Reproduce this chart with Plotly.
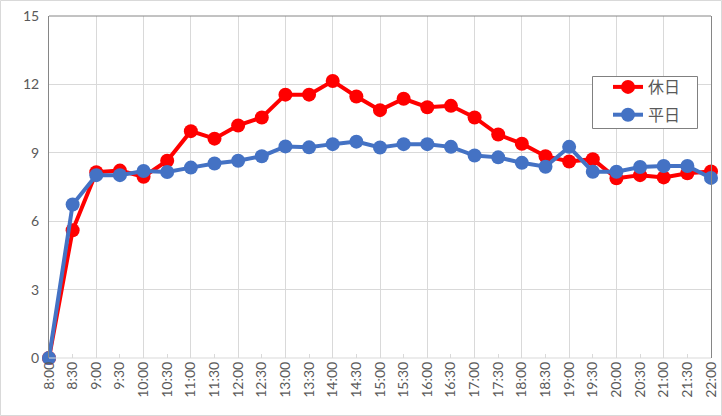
import plotly.graph_objects as go

times = ["8:00", "8:30", "9:00", "9:30", "10:00", "10:30", "11:00", "11:30", "12:00", "12:30",
         "13:00", "13:30", "14:00", "14:30", "15:00", "15:30", "16:00", "16:30", "17:00", "17:30",
         "18:00", "18:30", "19:00", "19:30", "20:00", "20:30", "21:00", "21:30", "22:00"]
holiday = [0, 5.6, 8.15, 8.22, 7.95, 8.65, 9.95, 9.62, 10.2, 10.55,
           11.55, 11.55, 12.15, 11.47, 10.87, 11.37, 11.0, 11.06, 10.55, 9.8,
           9.4, 8.85, 8.62, 8.72, 7.88, 8.02, 7.92, 8.1, 8.18]
weekday = [0, 6.73, 8.02, 8.02, 8.2, 8.16, 8.35, 8.53, 8.65, 8.85,
           9.28, 9.24, 9.38, 9.49, 9.23, 9.38, 9.38, 9.26, 8.88, 8.8,
           8.56, 8.39, 9.26, 8.17, 8.17, 8.38, 8.42, 8.42, 7.9]
series_names = ["休日", "平日"]
y_ticks = [0, 3, 6, 9, 12, 15]

xi = list(range(len(times)))
hourly = [i for i, t in enumerate(times) if t.endswith(":00")]

fig = go.Figure()
fig.add_trace(go.Scatter(x=xi, y=holiday, name=series_names[0], mode="lines+markers",
                         legendgroup="a",
                         line=dict(color="#FF0000", width=4),
                         marker=dict(color="#FF0000", size=14), cliponaxis=False))
fig.add_trace(go.Scatter(x=xi, y=weekday, name=series_names[1], mode="lines+markers",
                         legendgroup="b",
                         line=dict(color="#4472C4", width=4),
                         marker=dict(color="#4472C4", size=14), cliponaxis=False))

L, R, T, B = 49, 11, 16, 58
W, H = 722, 416
pw, ph = W - L - R, H - T - B


def px(x):
    return (x - L) / pw


def py(y):
    return (H - B - y) / ph


fig.update_layout(
    width=W, height=H,
    margin=dict(l=L, r=R, t=T, b=B, autoexpand=False),
    paper_bgcolor="white", plot_bgcolor="white",
    font=dict(family="Lato, 'Liberation Sans', sans-serif", color="#595959"),
    showlegend=True,
    legend=dict(x=px(608), y=py(70), xanchor="left", yanchor="top",
                borderwidth=0, bgcolor="rgba(0,0,0,0)",
                font=dict(family="'Noto Sans CJK JP', sans-serif", size=16, color="#595959"),
                itemwidth=30, tracegroupgap=4),
    xaxis=dict(range=[0, len(times) - 1], tickvals=xi, ticktext=times, tickangle=-90,
               automargin=False,
               showgrid=False, zeroline=False, showline=False,
               ticks="inside", ticklen=4, tickcolor="#D9D9D9",
               tickfont=dict(size=14, color="#595959"),
               minor=dict(tickvals=hourly, showgrid=True, gridcolor="#D9D9D9", gridwidth=1)),
    yaxis=dict(range=[0, 15], tickvals=y_ticks, showgrid=True, gridcolor="#D9D9D9",
               automargin=False,
               zeroline=False, showline=True, mirror=True, linecolor="#868686", linewidth=1,
               ticks="", tickfont=dict(size=14, color="#595959"), ticklabelstandoff=6),
    shapes=[
        dict(type="line", xref="paper", yref="paper", x0=0, x1=1, y0=1, y1=1,
             line=dict(color="#868686", width=1)),
        dict(type="line", xref="paper", yref="paper", x0=0, x1=1, y0=0, y1=0,
             line=dict(color="#D9D9D9", width=1)),
        dict(type="rect", xref="paper", yref="paper",
             x0=px(592.5), x1=px(697.5), y0=py(128.5), y1=py(76.5),
             line=dict(color="#808080", width=1), fillcolor="white", layer="above"),
        dict(type="rect", xref="paper", yref="paper",
             x0=-(L - 0.5) / pw, x1=1 + (R - 0.5) / pw,
             y0=-(B - 0.5) / ph, y1=1 + (T - 0.5) / ph,
             line=dict(color="#D9D9D9", width=1), fillcolor="rgba(0,0,0,0)", layer="below"),
    ],
)

fig.write_html("out.html")
